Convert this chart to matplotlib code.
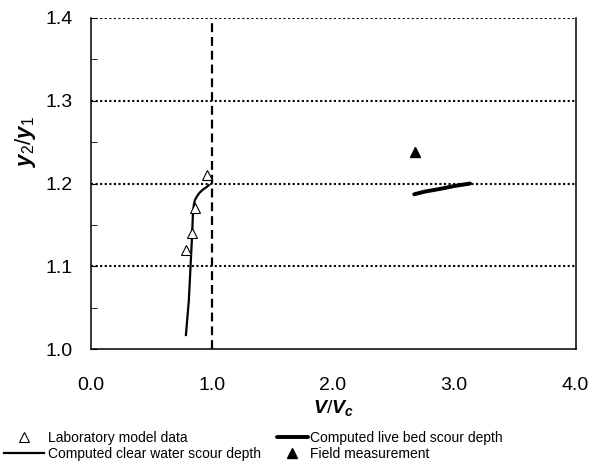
import matplotlib
matplotlib.use("Agg")
import matplotlib.pyplot as plt
from matplotlib.ticker import MultipleLocator, FormatStrFormatter

plt.rcParams["font.family"] = "Liberation Sans"
plt.rcParams["mathtext.fontset"] = "custom"
plt.rcParams["mathtext.it"] = "Liberation Sans:italic:bold"
plt.rcParams["mathtext.rm"] = "Liberation Sans"
plt.rcParams["mathtext.bf"] = "Liberation Sans:bold"

# Laboratory model data
lab_x = [0.79, 0.84, 0.86, 0.96]
lab_y = [1.12, 1.14, 1.17, 1.21]

# Computed clear water scour depth
clear_x = [0.787, 0.800, 0.811, 0.825, 0.836, 0.845, 0.852, 0.861, 0.880, 0.900, 0.930, 0.960, 0.975]
clear_y = [1.017, 1.040, 1.059, 1.100, 1.132, 1.164, 1.174, 1.180, 1.185, 1.189, 1.193, 1.196, 1.198]

# Computed live bed scour depth
live_x = [2.67, 2.75, 2.90, 3.00, 3.13]
live_y = [1.187, 1.190, 1.194, 1.197, 1.200]

# Field measurement
field_x = [2.68]
field_y = [1.238]

fig = plt.figure(figsize=(6.01, 4.73), dpi=100)
ax = fig.add_axes([0.1506, 0.262, 0.807, 0.700])

ax.set_xlim(0, 4)
ax.set_ylim(1.0, 1.4)

# horizontal dotted grid
for yv in [1.1, 1.2, 1.3, 1.4]:
    ax.axhline(yv, color="black", lw=1.5, ls=(0, (1.0, 1.2)), zorder=1)
# critical velocity line
ax.axvline(1.0, color="black", lw=1.6, ls=(0, (4, 2.2)), zorder=1)

lab, = ax.plot(lab_x, lab_y, ls="none", marker="^", ms=7, mfc="white",
               mec="black", mew=0.8, zorder=4, label="Laboratory model data")
clear, = ax.plot(clear_x, clear_y, color="black", lw=1.6, zorder=3,
                 label="Computed clear water scour depth")
live, = ax.plot(live_x, live_y, color="black", lw=2.8, solid_capstyle="round",
                zorder=3, label="Computed live bed scour depth")
field, = ax.plot(field_x, field_y, ls="none", marker="^", ms=7.5, color="black",
                 zorder=4, label="Field measurement")

ax.spines["top"].set_visible(False)
for s in ["left", "right", "bottom"]:
    ax.spines[s].set_lw(1.1)

ax.xaxis.set_major_locator(MultipleLocator(1.0))
ax.xaxis.set_major_formatter(FormatStrFormatter("%.1f"))
ax.yaxis.set_major_locator(MultipleLocator(0.1))
ax.yaxis.set_minor_locator(MultipleLocator(0.05))
ax.yaxis.set_major_formatter(FormatStrFormatter("%.1f"))
ax.tick_params(axis="x", length=0, pad=20, labelsize=14)
ax.tick_params(axis="y", which="major", direction="in", length=4, pad=13, labelsize=14)
ax.tick_params(axis="y", which="minor", direction="in", length=4)

ax.set_xlabel("$V/V_c$", fontsize=14)
ax.xaxis.set_label_coords(0.5, -0.148)
ax.set_ylabel("$y_2/y_1$", fontsize=16)
ax.yaxis.set_label_coords(-0.108, 0.628)

leg1 = fig.legend(handles=[lab, clear], loc="upper left",
                  bbox_to_anchor=(0.006, 0.089), frameon=False, fontsize=10,
                  handlelength=2.9, handletextpad=0.3,
                  labelspacing=0.15, borderaxespad=0, borderpad=0)
leg2 = fig.legend(handles=[live, field], loc="upper left",
                  bbox_to_anchor=(0.461, 0.089), frameon=False, fontsize=10,
                  handlelength=2.2, handletextpad=0.2,
                  labelspacing=0.15, borderaxespad=0, borderpad=0)

fig.set_facecolor("white")
fig.savefig("out.png", dpi=100)
